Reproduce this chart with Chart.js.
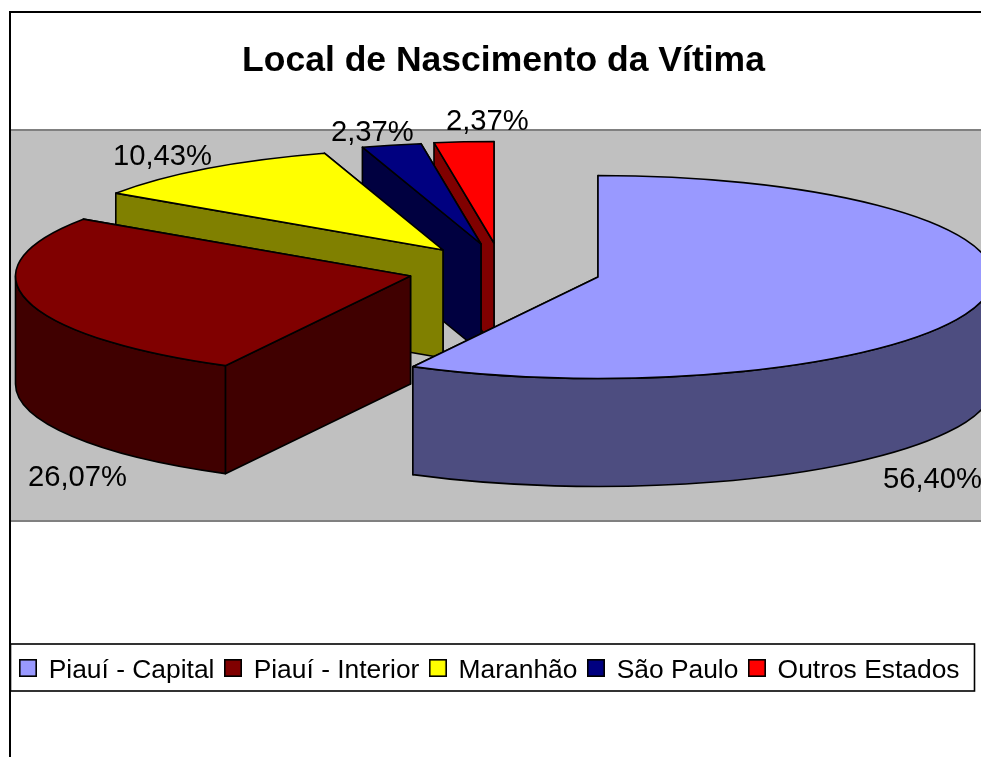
<!DOCTYPE html>
<html>
<head>
<meta charset="utf-8">
<style>html,body{margin:0;padding:0;background:#fff;overflow:hidden}canvas{display:block}</style>
<script src="https://cdn.jsdelivr.net/npm/chart.js@4"></script>
</head>
<body>
<canvas id="c" width="981" height="757"></canvas>
<script>
const chartTitle = 'Local de Nascimento da Vítima';
const categories = ['Piauí - Capital', 'Piauí - Interior', 'Maranhão', 'São Paulo', 'Outros Estados'];
const values = [56.40, 26.07, 10.43, 2.37, 2.37];

const topColors = ['#9999FF', '#800000', '#FFFF00', '#000080', '#FF0000'];
const wallColors = ['#4D4D80', '#400000', '#808000', '#000040', '#800000'];
const explodeX = [93.5, -94, -61.5, -23.5, -10.5];
const explodeY = [6, 5, -21, -27, -28];
const labelX = [883, 28, 113, 331, 446];
const labelY = [488, 486, 165, 141, 130];

const FONT = '"Liberation Sans", Arial, sans-serif';
const RADIUS = 395, RY = 101.5, DEPTH = 108;
const fmt = v => v.toFixed(2).replace('.', ',') + '%';

function swatch(color) {
  const s = document.createElement('canvas');
  s.width = 18; s.height = 24;
  const g = s.getContext('2d');
  g.fillStyle = color; g.fillRect(1, 1, 16, 16);
  g.strokeStyle = '#000'; g.lineWidth = 1.6; g.strokeRect(0.8, 0.8, 16.4, 16.4);
  return s;
}
const swatches = topColors.map(swatch);

const pie3d = {
  id: 'pie3d',
  afterLayout(chart) {
    const a = chart.chartArea;
    a.left = 28; a.right = 981; a.top = 130; a.bottom = 412;
    a.width = a.right - a.left; a.height = a.bottom - a.top;
    const t = chart.titleBlock;
    t.left = 26; t.right = 981; t.width = 955;
    const l = chart.legend;
    l.left = 9.5; l.right = 981; l.width = 971.5; l.top = 646.8; l.bottom = 691; l.height = 44.2;
    l.adjustHitBoxes();
  },
  beforeDraw(chart) {
    const c = chart.ctx;
    c.save();
    c.fillStyle = '#fff'; c.fillRect(0, 0, 981, 757);
    c.fillStyle = '#C0C0C0'; c.fillRect(11, 130, 970, 391);
    c.strokeStyle = '#808080'; c.lineWidth = 2;
    c.beginPath(); c.moveTo(11, 130); c.lineTo(981, 130); c.moveTo(11, 521); c.lineTo(981, 521); c.stroke();
    c.strokeStyle = '#000'; c.lineWidth = 2;
    c.beginPath(); c.moveTo(981, 12); c.lineTo(10, 12); c.lineTo(10, 757); c.stroke();
    c.fillStyle = '#fff'; c.fillRect(11, 644, 963, 47);
    c.lineWidth = 1.6; c.strokeRect(10.5, 644, 964, 47);
    c.restore();
  },
  beforeDatasetDraw(chart, args) {
    const c = chart.ctx;
    const arcs = args.meta.data;
    c.save();
    c.lineJoin = 'round';
    for (let i = arcs.length - 1; i >= 0; i--) {
      const arc = arcs[i];
      const ax = arc.x + explodeX[i], ay = arc.y + explodeY[i];
      const R = arc.outerRadius;
      const s = arc.startAngle, e = arc.endAngle;
      c.strokeStyle = '#000'; c.lineWidth = 1.6;
      c.fillStyle = wallColors[i];
      [e, s].forEach(ang => {
        const px = ax + R * Math.cos(ang), py = ay + RY * Math.sin(ang);
        c.beginPath();
        c.moveTo(ax, ay); c.lineTo(px, py); c.lineTo(px, py + DEPTH); c.lineTo(ax, ay + DEPTH);
        c.closePath(); c.fill(); c.stroke();
      });
      const a0 = Math.max(s, 0), a1 = Math.min(e, Math.PI);
      if (a1 > a0) {
        c.beginPath();
        c.ellipse(ax, ay, R, RY, 0, a0, a1);
        c.ellipse(ax, ay + DEPTH, R, RY, 0, a1, a0, true);
        c.closePath(); c.fill(); c.stroke();
      }
      c.save();
      c.translate(ax, ay);
      c.scale(1, RY / R);
      c.translate(-arc.x, -arc.y);
      arc.draw(c);
      c.restore();
      c.beginPath();
      c.moveTo(ax, ay);
      c.ellipse(ax, ay, R, RY, 0, s, e);
      c.closePath(); c.stroke();
    }
    c.restore();
    return false;
  },
  afterDraw(chart) {
    const c = chart.ctx;
    c.save();
    c.fillStyle = '#000';
    c.font = '29.2px ' + FONT;
    c.textAlign = 'left'; c.textBaseline = 'alphabetic';
    values.forEach((v, i) => c.fillText(fmt(v), labelX[i], labelY[i]));
    c.restore();
  }
};

new Chart(document.getElementById('c'), {
  type: 'pie',
  plugins: [pie3d],
  data: {
    labels: categories,
    datasets: [{ data: values, backgroundColor: topColors, borderWidth: 0, radius: RADIUS, hoverOffset: 0 }]
  },
  options: {
    responsive: false,
    animation: false,
    events: [],
    plugins: {
      title: {
        display: true, text: chartTitle, color: '#000',
        font: { family: FONT, size: 35.5, weight: 'bold' },
        padding: { top: 40, bottom: 20 }
      },
      legend: {
        position: 'bottom',
        align: 'start',
        labels: {
          color: '#000',
          font: { family: FONT, size: 26.4 },
          usePointStyle: true,
          boxWidth: 15, boxHeight: 18, padding: 11,
          generateLabels: ch => Chart.overrides.pie.plugins.legend.labels.generateLabels(ch)
            .map((l, i) => ({ ...l, pointStyle: swatches[i] }))
        }
      },
      tooltip: { enabled: false }
    }
  }
});
</script>
</body>
</html>
